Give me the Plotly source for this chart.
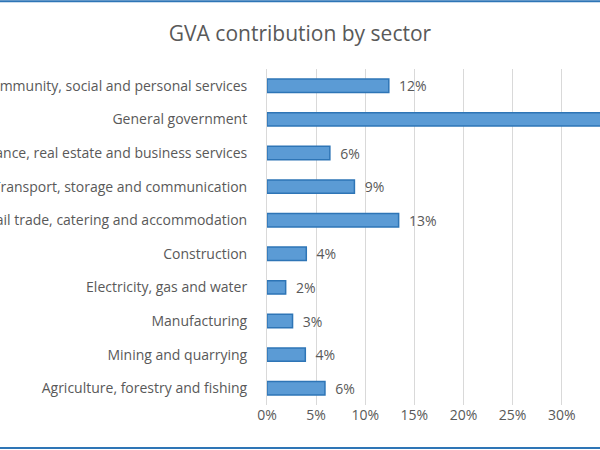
import plotly.graph_objects as go

# sectors, top to bottom as in the chart
sectors = [
    "Community, social and personal services",
    "General government",
    "Finance, real estate and business services",
    "Transport, storage and communication",
    "Wholesale and retail trade, catering and accommodation",
    "Construction",
    "Electricity, gas and water",
    "Manufacturing",
    "Mining and quarrying",
    "Agriculture, forestry and fishing",
]
gva_share = [0.124, 0.404, 0.064, 0.089, 0.134, 0.040, 0.019, 0.026, 0.039, 0.059]
tick_vals = [0, 0.05, 0.10, 0.15, 0.20, 0.25, 0.30, 0.35]

grey_text = "#595959"
fnt = "Open Sans"

fig = go.Figure(go.Bar(
    x=gva_share,
    y=sectors,
    orientation="h",
    marker=dict(color="#5B9BD5", line=dict(color="#2E75B6", width=1.5)),
    texttemplate="  %{x:.0%}",
    textposition="outside",
    constraintext="none",
    textfont=dict(family=fnt, size=14, color=grey_text),
    cliponaxis=True,
))

fig.update_layout(
    width=600,
    height=450,
    plot_bgcolor="white",
    paper_bgcolor="white",
    margin=dict(l=267, r=0, t=69, b=45, autoexpand=False),
    bargap=0.6,
    showlegend=False,
    title=dict(text="GVA contribution by sector", x=0.5, xanchor="center",
               y=0.925, yanchor="middle",
               font=dict(family=fnt, size=21, color=grey_text)),
    xaxis=dict(
        range=[0, 0.339],
        tickvals=tick_vals,
        tickformat=".0%",
        showgrid=True, gridcolor="#D9D9D9", gridwidth=1,
        zeroline=False, showline=False,
        tickfont=dict(family=fnt, size=14, color=grey_text),
        automargin=False, fixedrange=True,
    ),
    yaxis=dict(
        categoryorder="array",
        categoryarray=sectors[::-1],
        showline=True, linecolor="#D9D9D9", linewidth=1,
        showgrid=False,
        ticks="",
        ticklabelstandoff=16,
        tickfont=dict(family=fnt, size=14, color=grey_text),
        automargin=False, fixedrange=True,
    ),
)

# blue frame lines at top and bottom of the picture
for yy in [1.2015, -0.128]:
    fig.add_shape(type="line", xref="paper", yref="paper",
                  x0=-1, x1=1.1, y0=yy, y1=yy,
                  line=dict(color="#2E75B6", width=2))

# drop the page's default body margin so the chart sits at the window corner
fig.write_html("out.html", config={"displayModeBar": False},
               post_script="document.body.style.margin='0';")
